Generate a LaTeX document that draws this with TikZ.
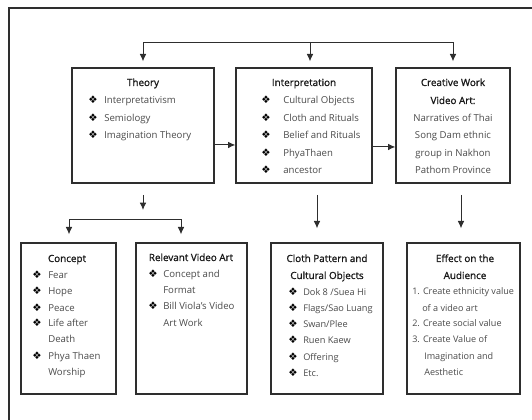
\documentclass[tikz,border=0pt]{standalone}
\usepackage{fontspec}
\setmainfont{Open Sans}
\newfontfamily\symfont{DejaVu Sans}
\newfontfamily\headfont[FakeBold=1.2]{Open Sans}
\usetikzlibrary{arrows.meta}
\definecolor{itemgray}{HTML}{4A4A4A}
\definecolor{linegray}{HTML}{2E2E2E}
\newcommand{\bul}{{\symfont ❖}}
\def\px{0.75pt}

\begin{document}
\begin{tikzpicture}[x=0.75pt,y=-0.75pt,
  box/.style={draw=linegray,line width=1pt,inner sep=0pt},
  head/.style={anchor=base,inner sep=0pt,font=\fontsize{7.4}{9}\selectfont\headfont,text=black!90},
  item/.style={anchor=base west,inner sep=0pt,font=\fontsize{7.2}{9}\selectfont,text=itemgray},
  bullet/.style={anchor=base,inner sep=0pt,font=\fontsize{7.8}{9}\selectfont},
  arr/.style={draw=linegray,line width=0.7pt,-{Latex[length=5.5pt,width=5pt]}},
  arrs/.style={draw=linegray,line width=0.7pt,{Latex[length=5.5pt,width=5pt]}-{Latex[length=5.5pt,width=5pt]}}]
\useasboundingbox (0,0) rectangle (532,420);
\draw[linegray,line width=0.8pt] (9,420) -- (9,8) -- (532,8);

% upper row
\node[box,minimum width=142*\px,minimum height=115*\px] (theory) at (143,125.5) {};
\node[box,minimum width=136*\px,minimum height=115*\px] (interp) at (304,125.5) {};
\node[box,minimum width=114*\px,minimum height=115*\px] (creative) at (453,125.5) {};

\node[head] (theoryT) at (143,86) {Theory};
\foreach \t [count=\i] in {Interpretativism,Semiology,Imagination Theory} {
  \node[bullet] (thB\i) at (93,86.5+17.5*\i) {\bul};
  \node[item] (thI\i) at (104,86.5+17.5*\i) {\t};
}

\node[head] (interpT) at (304,86) {Interpretation};
\foreach \t [count=\i] in {Cultural Objects,Cloth and Rituals,Belief and Rituals,PhyaThaen,ancestor} {
  \node[bullet] (inB\i) at (266,86.5+17.5*\i) {\bul};
  \node[item] (inI\i) at (283,86.5+17.5*\i) {\t};
}

\node[head] (creativeT1) at (453,86) {Creative Work};
\node[head] (creativeT2) at (453,104) {Video Art:};
\foreach \t [count=\i] in {Narratives of Thai,Song Dam ethnic,group in Nakhon,Pathom Province} {
  \node[item,anchor=base] (crI\i) at (453,104+17.5*\i) {\t};
}

% lower row
\node[box,minimum width=95*\px,minimum height=151*\px] (concept) at (68.5,318.5) {};
\node[box,minimum width=111*\px,minimum height=151*\px] (relevant) at (191.5,318.5) {};
\node[box,minimum width=112*\px,minimum height=151*\px] (cloth) at (327,318.5) {};
\node[box,minimum width=113*\px,minimum height=151*\px] (effect) at (463.5,318.5) {};

\node[head] (conceptT) at (67,262) {Concept};
\foreach \b/\t [count=\i] in {1/Fear,1/Hope,1/Peace,1/Life after,0/Death,1/Phya Thaen,0/Worship} {
  \ifnum\b=1 \node[bullet] (coB\i) at (37,263+16*\i) {\bul}; \fi
  \node[item] (coI\i) at (48,263+16*\i) {\t};
}

\node[head] (relevantT) at (191,261) {Relevant Video Art};
\foreach \b/\t [count=\i] in {1/Concept and,0/Format,1/Bill Viola’s Video,0/Art Work} {
  \ifnum\b=1 \node[bullet] (reB\i) at (153,262+16*\i) {\bul}; \fi
  \node[item] (reI\i) at (163,262+16*\i) {\t};
}

\node[head] (clothT1) at (327,262) {Cloth Pattern and};
\node[head] (clothT2) at (327,279) {Cultural Objects};
\foreach \t [count=\i] in {Dok 8 /Suea Hi,Flags/Sao Luang,Swan/Plee,Ruen Kaew,Offering,Etc.} {
  \node[bullet] (clB\i) at (293,279+16.2*\i) {\bul};
  \node[item,font=\fontsize{6.9}{9}\selectfont] (clI\i) at (303,279+16.2*\i) {\t};
}

\node[head] (effectT1) at (465,262) {Effect on the};
\node[head] (effectT2) at (465,279) {Audience};
\foreach \x/\t [count=\i] in {412/1. Create ethnicity value,422/of a video art,412/2. Create social value,412/3. Create Value of,424/Imagination and,424/Aesthetic} {
  \node[item,font=\fontsize{6.8}{9}\selectfont] (efI\i) at (\x,279+16*\i) {\t};
}

% connectors
\coordinate (busL) at (143,42);
\coordinate (busR) at (453,42);
\coordinate (busM) at (310,42);
\draw[arrs,shorten <=4.5pt,shorten >=4.5pt] (theory.north) -- (busL) -- (busR) -- (creative.north);
\draw[arr,shorten >=4.5pt] (busM) -- (busM |- interp.north);

\draw[arr] ([yshift=-14.6pt]theory.east) -- ([yshift=-14.6pt]interp.west);
\draw[arr] ([yshift=-16.1pt]interp.east) -- ([yshift=-16.1pt]creative.west);

\coordinate (thDown) at (143,195);
\draw[arr] (thDown) -- ++(0,15);
\coordinate (brL) at (69,219);
\coordinate (brR) at (181,219);
\draw[arrs,shorten <=6pt,shorten >=6pt] (brL |- concept.north) -- (brL) -- (brR) -- (brR |- relevant.north);

\coordinate (inDown) at (317,195);
\draw[arr,shorten >=10.5pt] (inDown) -- (inDown |- cloth.north);
\coordinate (crDown) at (461,195);
\draw[arr,shorten >=10.5pt] (crDown) -- (crDown |- effect.north);
\end{tikzpicture}
\end{document}
